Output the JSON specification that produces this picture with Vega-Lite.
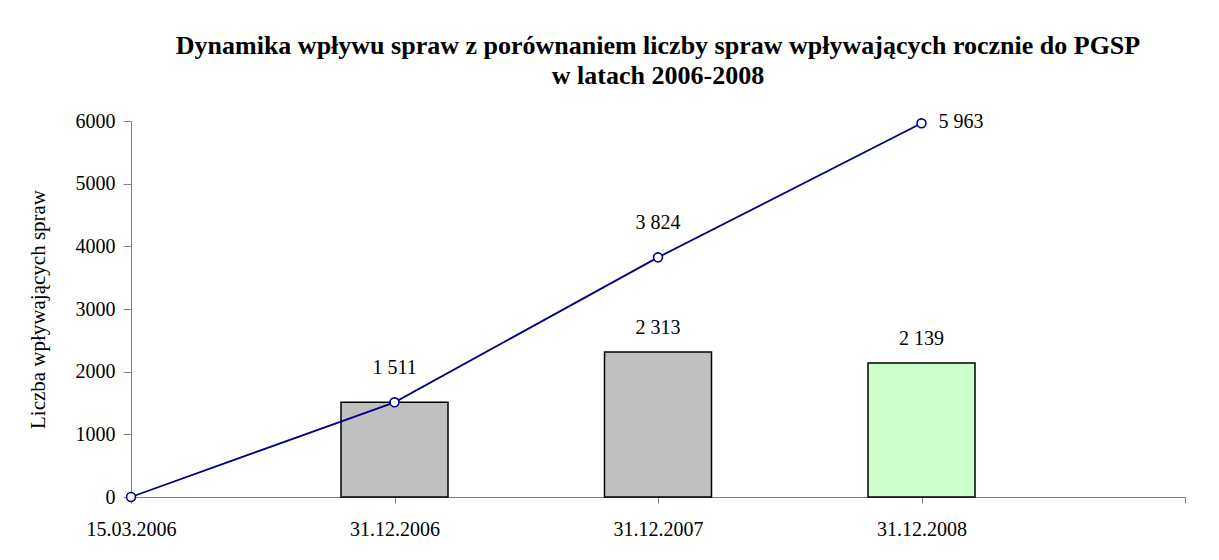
{
  "$schema": "https://vega.github.io/schema/vega-lite/v6.json",
  "autosize": {"type": "none"},
  "padding": {"left": 131, "top": 121, "right": 34, "bottom": 63},
  "width": 1054,
  "height": 376,
  "background": "white",
  "title": {
    "text": ["Dynamika wpływu spraw z porównaniem liczby spraw wpływających rocznie do PGSP", "w latach 2006-2008"],
    "font": "'Liberation Serif', 'DejaVu Serif', serif",
    "fontSize": 26,
    "fontWeight": "bold",
    "lineHeight": 30,
    "color": "#000000",
    "anchor": "middle",
    "offset": 22
  },
  "data": {
    "values": [
      {"date": "15.03.2006", "cumulative": 0, "annual": null},
      {"date": "31.12.2006", "cumulative": 1511, "annual": 1511},
      {"date": "31.12.2007", "cumulative": 3824, "annual": 2313},
      {"date": "31.12.2008", "cumulative": 5963, "annual": 2139}
    ]
  },
  "encoding": {
    "x": {
      "field": "date",
      "type": "ordinal",
      "scale": {"type": "point", "padding": 0, "domain": ["15.03.2006", "31.12.2006", "31.12.2007", "31.12.2008", " "]},
      "axis": {
        "title": null,
        "labelAngle": 0,
        "labelFont": "'Liberation Serif', 'DejaVu Serif', serif",
        "labelFontSize": 20,
        "labelColor": "#000000",
        "labelPadding": 16,
        "tickSize": 6,
        "tickColor": "#808080",
        "domainColor": "#808080",
        "domainWidth": 1,
        "grid": false
      }
    }
  },
  "layer": [
    {
      "transform": [{"filter": "datum.annual != null"}],
      "mark": {"type": "bar", "size": 107, "stroke": "#000000", "strokeWidth": 1.5},
      "encoding": {
        "y": {
          "field": "annual",
          "type": "quantitative",
          "scale": {"domain": [0, 6000], "nice": false},
          "axis": {
            "title": "Liczba wpływających spraw",
            "titleFont": "'Liberation Serif', 'DejaVu Serif', serif",
            "titleFontSize": 21,
            "titleFontWeight": "normal",
            "titleColor": "#000000",
            "titlePadding": 27,
            "values": [0, 1000, 2000, 3000, 4000, 5000, 6000],
            "format": "d",
            "labelFont": "'Liberation Serif', 'DejaVu Serif', serif",
            "labelFontSize": 20,
            "labelColor": "#000000",
            "labelPadding": 8,
            "tickSize": 8,
            "tickColor": "#808080",
            "domainColor": "#808080",
            "grid": false
          }
        },
        "color": {
          "field": "date",
          "type": "nominal",
          "scale": {"domain": ["31.12.2006", "31.12.2007", "31.12.2008"], "range": ["#C0C0C0", "#C0C0C0", "#CCFFCC"]},
          "legend": null
        }
      }
    },
    {
      "transform": [{"filter": "datum.annual != null && datum.date != '31.12.2006'"}],
      "mark": {"type": "text", "dy": -24, "font": "'Liberation Serif', 'DejaVu Serif', serif", "fontSize": 20, "color": "#000000"},
      "encoding": {
        "y": {"field": "annual", "type": "quantitative"},
        "text": {"field": "annual", "type": "quantitative", "format": ",d"}
      }
    },
    {
      "mark": {"type": "line", "color": "#000080", "strokeWidth": 1.8},
      "encoding": {
        "y": {"field": "cumulative", "type": "quantitative"}
      }
    },
    {
      "mark": {"type": "point", "shape": "circle", "size": 80, "filled": true, "fill": "#FFFFFF", "stroke": "#000080", "strokeWidth": 1.6, "opacity": 1},
      "encoding": {
        "y": {"field": "cumulative", "type": "quantitative"}
      }
    },
    {
      "transform": [{"filter": "datum.cumulative > 0 && datum.date != '31.12.2008'"}],
      "mark": {"type": "text", "dy": -34, "font": "'Liberation Serif', 'DejaVu Serif', serif", "fontSize": 20, "color": "#000000"},
      "encoding": {
        "y": {"field": "cumulative", "type": "quantitative"},
        "text": {"field": "cumulative", "type": "quantitative", "format": ",d"}
      }
    },
    {
      "transform": [{"filter": "datum.date == '31.12.2008'"}],
      "mark": {"type": "text", "align": "left", "dx": 17, "dy": -1, "font": "'Liberation Serif', 'DejaVu Serif', serif", "fontSize": 20, "color": "#000000"},
      "encoding": {
        "y": {"field": "cumulative", "type": "quantitative"},
        "text": {"field": "cumulative", "type": "quantitative", "format": ",d"}
      }
    }
  ],
  "config": {
    "view": {"stroke": null},
    "locale": {"number": {"decimal": ",", "thousands": " ", "grouping": [3], "currency": ["", " zł"]}}
  }
}
